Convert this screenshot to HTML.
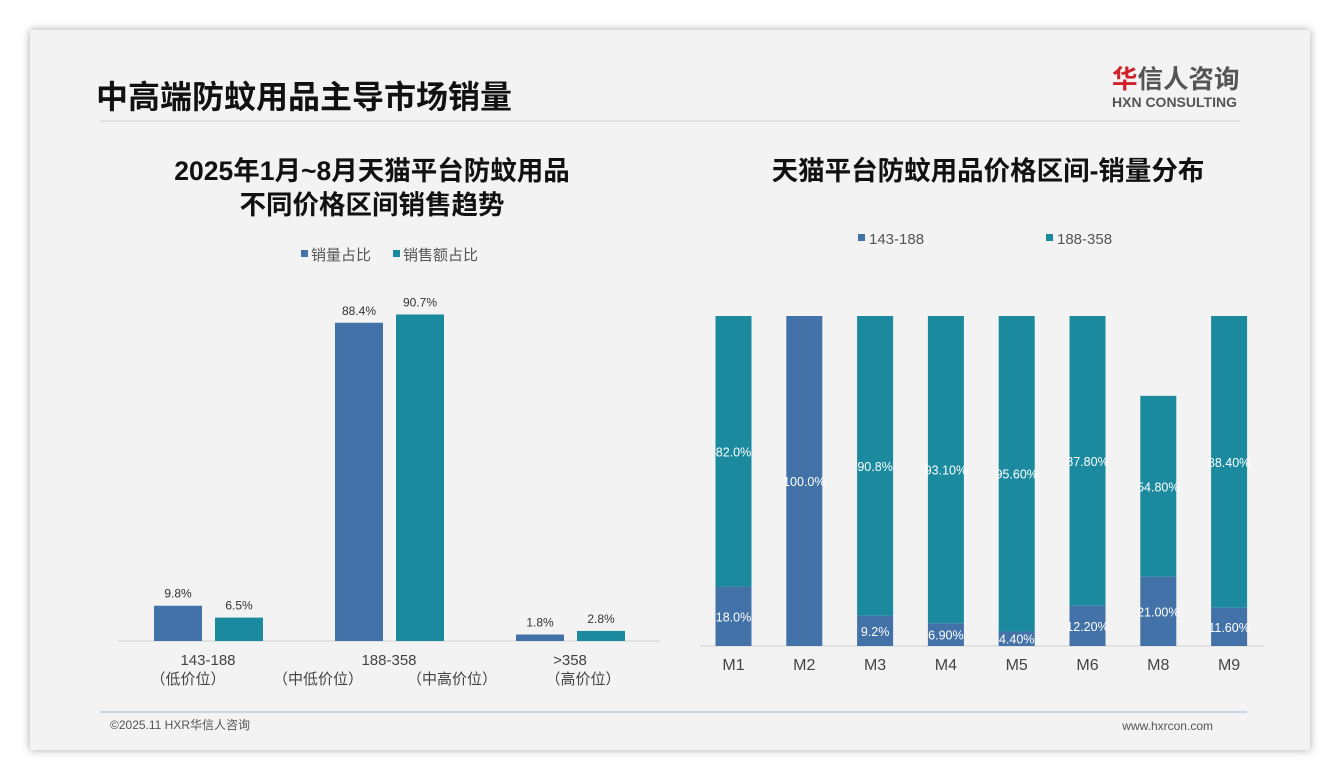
<!DOCTYPE html>
<html><head><meta charset="utf-8">
<style>
html,body{margin:0;padding:0;width:1340px;height:780px;background:#fff;overflow:hidden;font-family:"Liberation Sans","Noto Sans CJK SC",sans-serif;}
#card{position:absolute;left:30px;top:30px;width:1280px;height:720px;background:#f3f3f3;box-shadow:0 0 8px rgba(0,0,0,0.35);}
svg text{font-family:"Liberation Sans","Noto Sans CJK SC",sans-serif;}
</style></head>
<body>
<div id="card"></div>
<svg id="s" width="1340" height="780" style="position:absolute;left:0;top:0">
  <text x="96" y="108" font-size="32" font-weight="bold" fill="#111">中高端防蚊用品主导市场销量</text>
  <line x1="100" y1="121" x2="1240" y2="121" stroke="#dcdcdc" stroke-width="1.5"/>
  <text x="1112" y="88" font-size="25.5" font-weight="bold" fill="#555"><tspan fill="#d0212a">华</tspan>信人咨询</text>
  <text x="1112" y="107" font-size="14" font-weight="bold" fill="#555">HXN CONSULTING</text>
  <text x="372" y="180" font-size="26.5" font-weight="bold" fill="#111" text-anchor="middle">2025年1月~8月天猫平台防蚊用品</text>
  <text x="372" y="214" font-size="26.5" font-weight="bold" fill="#111" text-anchor="middle">不同价格区间销售趋势</text>
  <text x="988" y="180" font-size="26.5" font-weight="bold" fill="#111" text-anchor="middle">天猫平台防蚊用品价格区间-销量分布</text>
  <g>
    <rect x="301" y="250" width="7" height="7" fill="#4272a8"/>
    <text x="311" y="260" font-size="15" fill="#555">销量占比</text>
    <rect x="393" y="250" width="7" height="7" fill="#1b8a9f"/>
    <text x="403" y="260" font-size="15" fill="#555">销售额占比</text>
  </g>
  <g>
    <rect x="858" y="234" width="7" height="7" fill="#4272a8"/>
    <text x="869" y="244" font-size="15" fill="#555">143-188</text>
    <rect x="1046" y="234" width="7" height="7" fill="#1b8a9f"/>
    <text x="1057" y="244" font-size="15" fill="#555">188-358</text>
  </g>
  <line x1="118" y1="641" x2="660" y2="641" stroke="#d0d0d0"/>
  <line x1="700" y1="646" x2="1265" y2="646" stroke="#d0d0d0"/>
  <g id="left"></g>
  <g id="right"></g>
  <text x="208" y="665" font-size="15" fill="#444" text-anchor="middle">143-188</text>
  <text x="188" y="684" font-size="15" fill="#444" text-anchor="middle">（低价位）</text>
  <text x="389" y="665" font-size="15" fill="#444" text-anchor="middle">188-358</text>
  <text x="318" y="684" font-size="15" fill="#444" text-anchor="middle">（中低价位）</text>
  <text x="452" y="684" font-size="15" fill="#444" text-anchor="middle">（中高价位）</text>
  <text x="570" y="665" font-size="15" fill="#444" text-anchor="middle">&gt;358</text>
  <text x="583" y="684" font-size="15" fill="#444" text-anchor="middle">（高价位）</text>
  <line x1="100" y1="712" x2="1247" y2="712" stroke="#9fb8d6" stroke-width="1"/>
  <text x="110" y="729" font-size="12" fill="#555">©2025.11 HXR华信人咨询</text>
  <text x="1213" y="730" font-size="12" fill="#555" text-anchor="end">www.hxrcon.com</text>
</svg>
<script>
const leftCats = ['143-188','188-358','>358'];
const leftVolume = [9.8, 88.4, 1.8];
const leftSales = [6.5, 90.7, 2.8];
const rightCats = ['M1','M2','M3','M4','M5','M6','M8','M9'];
const rightLow = [18.0, 100.0, 9.2, 6.9, 4.4, 12.2, 21.0, 11.6];
const rightMid = [82.0, 0, 90.8, 93.1, 95.6, 87.8, 54.8, 88.4];
const rightLowLabels = ['18.0%','100.0%','9.2%','6.90%','4.40%','12.20%','21.00%','11.60%'];
const rightMidLabels = ['82.0%','','90.8%','93.10%','95.60%','87.80%','54.80%','88.40%'];

const NS='http://www.w3.org/2000/svg';
function mk(tag, attrs, parent){const e=document.createElementNS(NS,tag);for(const k in attrs)e.setAttribute(k,attrs[k]);parent.appendChild(e);return e;}

const L=document.getElementById('left');
const lBase=641, lScale=3.6;
const lx = i => 208 + i*181;
const ly = v => lBase - v*lScale;
leftCats.forEach((c,i)=>{
  const r1=mk('rect',{x:lx(i)-54,y:ly(leftVolume[i]),width:48,height:lBase-ly(leftVolume[i]),fill:'#4272a8'},L);
  
  
  const t1=mk('text',{x:lx(i)-30,y:ly(leftVolume[i])-8,'font-size':12,fill:'#333','text-anchor':'middle'},L);
  t1.textContent=leftVolume[i].toFixed(1)+'%';
  
  
  const r2=mk('rect',{x:lx(i)+7,y:ly(leftSales[i]),width:48,height:lBase-ly(leftSales[i]),fill:'#1b8a9f'},L);
  
  
  const t2=mk('text',{x:lx(i)+31,y:ly(leftSales[i])-8,'font-size':12,fill:'#333','text-anchor':'middle'},L);
  t2.textContent=leftSales[i].toFixed(1)+'%';
  
  
});

const R=document.getElementById('right');
const rBase=646, rScale=3.3, bw=36;
const rx = i => 733.5 + i*70.8;
const ry = v => rBase - v*rScale;
rightCats.forEach((c,i)=>{
  const lo=rightLow[i], mid=rightMid[i];
  const b1=mk('rect',{x:rx(i)-bw/2,y:ry(lo),width:bw,height:rBase-ry(lo),fill:'#4272a8'},R);
  
  
  if(mid>0){
    const b2=mk('rect',{x:rx(i)-bw/2,y:ry(lo+mid),width:bw,height:ry(lo)-ry(lo+mid),fill:'#1b8a9f'},R);
    
    
  }
  const t1=mk('text',{x:rx(i),y:(ry(lo)+rBase)/2+5,'font-size':12.5,fill:'#fff','text-anchor':'middle'},R);
  t1.textContent=rightLowLabels[i];
  
  
  if(mid>0){
    const t2=mk('text',{x:rx(i),y:(ry(lo)+ry(lo+mid))/2+5,'font-size':12.5,fill:'#fff','text-anchor':'middle'},R);
    t2.textContent=rightMidLabels[i];
    
    
  }
  const t3=mk('text',{x:rx(i),y:670,'font-size':16,fill:'#444','text-anchor':'middle'},R);
  t3.textContent=c;
  
  
});
</script>
</body></html>
